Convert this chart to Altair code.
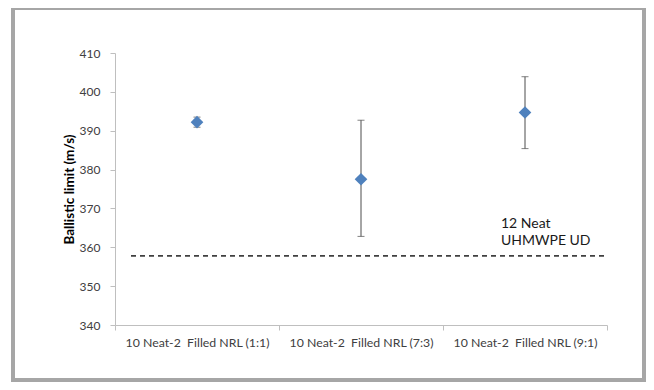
import altair as alt
import pandas as pd

# ---- data ----
categories = [
    "10 Neat-2\u00a0 Filled NRL (1:1)",
    "10 Neat-2\u00a0 Filled NRL (7:3)",
    "10 Neat-2\u00a0 Filled NRL (9:1)",
]
means = [392.2, 377.5, 394.7]
lower = [390.9, 362.8, 385.4]
upper = [393.5, 392.7, 403.9]
reference_value = [357.8]
annotation = ["12 Neat", "UHMWPE UD"]
y_ticks = [340, 350, 360, 370, 380, 390, 400, 410]

df = pd.DataFrame({"cat": categories, "mean": means, "lo": lower, "hi": upper})
ref_df = pd.DataFrame({"ref": reference_value})
ann_df = pd.DataFrame({"ref": reference_value, "label": ["\n".join(annotation)]})
frame_df = pd.DataFrame({"k": [0]})

FONT = "Lato"
W, H = 492, 272

x_enc = alt.X(
    "cat:N",
    sort=categories,
    scale=alt.Scale(type="band", paddingInner=0, paddingOuter=0),
    axis=alt.Axis(
        title=None,
        labelAngle=0,
        tickBand="extent",
        labelFont=FONT,
        labelFontSize=12.3,
        labelColor="#404040",
        labelPadding=6,
        tickSize=5,
        domainColor="#bfbfbf",
        tickColor="#bfbfbf",
        grid=False,
    ),
)
y_scale = alt.Scale(domain=[340, 410], nice=False, zero=False)
y_axis = alt.Axis(
    title="Ballistic limit (m/s)",
    values=y_ticks,
    grid=False,
    tickSize=5,
    labelPadding=10,
    labelOverlap=False,
    labelFont=FONT,
    labelFontSize=12,
    labelColor="#404040",
    domainColor="#bfbfbf",
    tickColor="#bfbfbf",
    titleFont=FONT,
    titleFontSize=13.5,
    titleFontWeight="bold",
    titleColor="#000000",
    titleX=-39,
)


def yq(field):
    return alt.Y(f"{field}:Q", scale=y_scale, axis=y_axis)


bars = alt.Chart(df).mark_rule(color="#4d4d4d", strokeWidth=1).encode(
    x=x_enc, y=yq("lo"), y2="hi:Q"
)
caps_hi = alt.Chart(df).mark_tick(color="#4d4d4d", size=7, thickness=1).encode(
    x=x_enc, y=yq("hi")
)
caps_lo = alt.Chart(df).mark_tick(color="#4d4d4d", size=7, thickness=1).encode(
    x=x_enc, y=yq("lo")
)
points = alt.Chart(df).mark_point(
    shape="diamond", filled=True, size=160, color="#4f81bd", opacity=1
).encode(x=x_enc, y=yq("mean"))

ref_line = alt.Chart(ref_df).mark_rule(
    color="#404040", strokeWidth=1.75, strokeDash=[5, 4]
).encode(
    y=yq("ref"),
    x=alt.value(16),
    x2=alt.value(491),
)
ref_text = alt.Chart(ann_df).mark_text(
    align="left",
    baseline="alphabetic",
    font=FONT,
    fontSize=14,
    color="#1a1a1a",
    lineBreak="\n",
    lineHeight=17,
    dy=-28,
).encode(
    y=yq("ref"),
    x=alt.value(386),
    text="label:N",
)

frame = alt.Chart(frame_df).mark_rect(
    fill=None, stroke="#a6a6a6", strokeWidth=4
).encode(
    x=alt.value(-102),
    x2=alt.value(529),
    y=alt.value(-45),
    y2=alt.value(327),
)

chart = (
    alt.layer(frame, bars, caps_hi, caps_lo, points, ref_line, ref_text)
    .properties(
        width=W,
        height=H,
        autosize=alt.AutoSizeParams(type="none"),
        padding={"left": 107, "top": 45, "right": 39, "bottom": 57},
        background="white",
    )
    .configure_view(stroke=None)
)

chart.save("out.html", embed_options={"renderer": "svg", "actions": False})
